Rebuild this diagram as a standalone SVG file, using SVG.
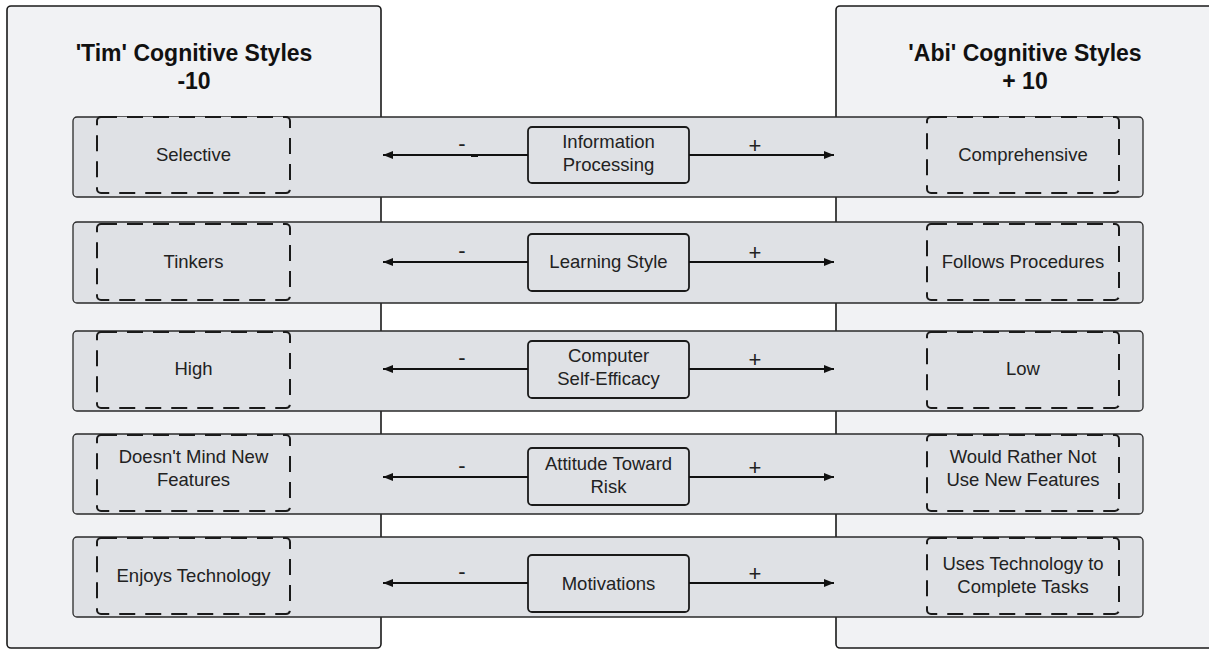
<svg xmlns="http://www.w3.org/2000/svg" width="1209" height="649" viewBox="0 0 1209 649">
<defs>
<style>
.panel{fill:#f1f2f4;stroke:#1a1a1a;stroke-width:1.6}
.band{fill:#dfe1e5;stroke:#2a2a2a;stroke-width:1.3}
.dash{fill:#dfe1e5;stroke:#1a1a1a;stroke-width:2;stroke-dasharray:16 10}
.cbox{fill:#dfe1e5;stroke:#1a1a1a;stroke-width:1.8}
.title{font-family:"Liberation Sans",Arial,sans-serif;font-weight:bold;font-size:23px;fill:#111;text-anchor:middle}
.t{font-family:"Liberation Sans",Arial,sans-serif;font-size:18.5px;fill:#222;text-anchor:middle}
.sign{font-family:"Liberation Sans",Arial,sans-serif;font-size:22px;fill:#222;text-anchor:middle}
.arr{stroke:#111;stroke-width:2;fill:none;marker-end:url(#ah)}
</style>
<marker id="ah" viewBox="0 0 10 8" refX="10" refY="4" markerWidth="10" markerHeight="8" markerUnits="userSpaceOnUse" orient="auto">
<path d="M0,0 L10,4 L0,8 Z" fill="#111"/>
</marker>
</defs>
<rect width="1209" height="649" fill="#ffffff"/>
<g id="tim-panel">
<rect class="panel" x="7" y="6" width="374" height="642" rx="4"/>
<text class="title" x="194" y="61">'Tim' Cognitive Styles</text>
<text class="title" x="194" y="89">-10</text>
</g>
<g id="abi-panel">
<rect class="panel" x="836" y="6" width="378" height="642" rx="4"/>
<text class="title" x="1025" y="61">'Abi' Cognitive Styles</text>
<text class="title" x="1025" y="89">+ 10</text>
</g>

<g id="row1">
<rect class="band" x="73" y="117" width="1070" height="80" rx="4"/>
<g id="selective"><rect class="dash" x="97" y="117" width="193" height="76" rx="4"/><text class="t" x="193.5" y="161">Selective</text></g>
<g id="comprehensive"><rect class="dash" x="927" y="117" width="192" height="76" rx="4"/><text class="t" x="1023" y="161">Comprehensive</text></g>
<g id="information-processing"><rect class="cbox" x="528" y="127" width="161" height="56" rx="4"/><text class="t" x="608.5" y="148">Information</text><text class="t" x="608.5" y="171">Processing</text></g>
</g>
<g id="row2">
<rect class="band" x="73" y="222" width="1070" height="81" rx="4"/>
<g id="tinkers"><rect class="dash" x="97" y="224" width="193" height="76" rx="4"/><text class="t" x="193.5" y="268">Tinkers</text></g>
<g id="follows-procedures"><rect class="dash" x="927" y="224" width="192" height="76" rx="4"/><text class="t" x="1023" y="268">Follows Procedures</text></g>
<g id="learning-style"><rect class="cbox" x="528" y="234" width="161" height="57" rx="4"/><text class="t" x="608.5" y="268">Learning Style</text></g>
</g>
<g id="row3">
<rect class="band" x="73" y="331" width="1070" height="80" rx="4"/>
<g id="high"><rect class="dash" x="97" y="332" width="193" height="76" rx="4"/><text class="t" x="193.5" y="375">High</text></g>
<g id="low"><rect class="dash" x="927" y="332" width="192" height="76" rx="4"/><text class="t" x="1023" y="375">Low</text></g>
<g id="computer-self-efficacy"><rect class="cbox" x="528" y="341" width="161" height="57" rx="4"/><text class="t" x="608.5" y="362">Computer</text><text class="t" x="608.5" y="385">Self-Efficacy</text></g>
</g>
<g id="row4">
<rect class="band" x="73" y="434" width="1070" height="80" rx="4"/>
<g id="doesnt-mind"><rect class="dash" x="97" y="435" width="193" height="76" rx="4"/><text class="t" x="193.5" y="463">Doesn't Mind New</text><text class="t" x="193.5" y="486">Features</text></g>
<g id="would-rather-not"><rect class="dash" x="927" y="435" width="192" height="76" rx="4"/><text class="t" x="1023" y="463">Would Rather Not</text><text class="t" x="1023" y="486">Use New Features</text></g>
<g id="attitude-toward-risk"><rect class="cbox" x="528" y="448" width="161" height="57" rx="4"/><text class="t" x="608.5" y="470">Attitude Toward</text><text class="t" x="608.5" y="493">Risk</text></g>
</g>
<g id="row5">
<rect class="band" x="73" y="537" width="1070" height="80" rx="4"/>
<g id="enjoys-technology"><rect class="dash" x="97" y="538" width="193" height="76" rx="4"/><text class="t" x="193.5" y="582">Enjoys Technology</text></g>
<g id="uses-technology"><rect class="dash" x="927" y="538" width="192" height="76" rx="4"/><text class="t" x="1023" y="570">Uses Technology to</text><text class="t" x="1023" y="593">Complete Tasks</text></g>
<g id="motivations"><rect class="cbox" x="528" y="555" width="161" height="57" rx="4"/><text class="t" x="608.5" y="590">Motivations</text></g>
</g>

<g id="connectors">
<line class="arr" x1="528" y1="155" x2="383" y2="155"/>
<line class="arr" x1="689" y1="155" x2="834" y2="155"/>
<rect x="471" y="155" width="7" height="2" fill="#111"/>
<line class="arr" x1="528" y1="262" x2="383" y2="262"/>
<line class="arr" x1="689" y1="262" x2="834" y2="262"/>
<line class="arr" x1="528" y1="369" x2="383" y2="369"/>
<line class="arr" x1="689" y1="369" x2="834" y2="369"/>
<line class="arr" x1="528" y1="477" x2="383" y2="477"/>
<line class="arr" x1="689" y1="477" x2="834" y2="477"/>
<line class="arr" x1="528" y1="583" x2="383" y2="583"/>
<line class="arr" x1="689" y1="583" x2="834" y2="583"/>
<text class="sign" x="462" y="151">-</text><text class="sign" x="755" y="153">+</text>
<text class="sign" x="462" y="258">-</text><text class="sign" x="755" y="260">+</text>
<text class="sign" x="462" y="365">-</text><text class="sign" x="755" y="367">+</text>
<text class="sign" x="462" y="473">-</text><text class="sign" x="755" y="475">+</text>
<text class="sign" x="462" y="579">-</text><text class="sign" x="755" y="581">+</text>
</g>
</svg>
